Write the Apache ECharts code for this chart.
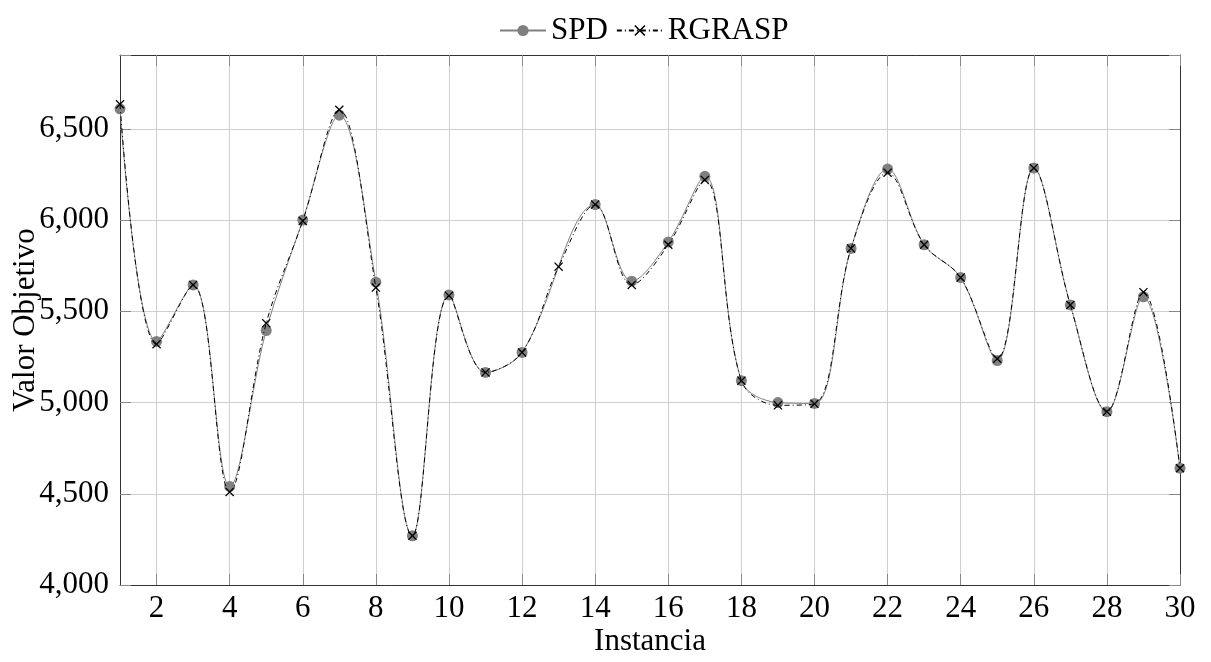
<!DOCTYPE html>
<html>
<head>
<meta charset="utf-8">
<script src="https://cdn.jsdelivr.net/npm/echarts@6/dist/echarts.min.js"></script>
<style>
html,body{margin:0;padding:0;background:#fff;}
#chart{width:1211px;height:662px;}
</style>
</head>
<body>
<div id="chart"></div>
<script>
const categories = ['1','2','3','4','5','6','7','8','9','10','11','12','13','14','15','16','17','18','19','20','21','22','23','24','25','26','27','28','29','30'];
const spd = [6610, 5335, 5645, 4540, 5395, 6000, 6575, 5660, 4270, 5590, 5165, 5275, null, 6085, 5665, 5880, 6240, 5120, 5000, 4995, 5845, 6280, 5865, 5685, 5230, 6285, 5535, 4950, 5580, 4640];
const rgrasp = [6635, 5320, 5645, 4510, 5435, 5995, 6605, 5630, 4270, 5585, 5165, 5275, 5745, 6085, 5645, 5865, 6220, 5120, 4985, 4993, 5845, 6260, 5865, 5685, 5240, 6285, 5535, 4950, 5605, 4640];
const yMin = 4000, yMax = 6905, yStep = 500;

const FONT = '"Liberation Serif", "DejaVu Serif", serif';
const crossPath = 'path://M0,1 L1,0 L5,4 L9,0 L10,1 L6,5 L10,9 L9,10 L5,6 L1,10 L0,9 L4,5 Z';
const evenIdx = (i) => i % 2 === 1;
const fmt = (v) => (v % yStep === 0) ? String(v).replace(/\B(?=(\d{3})+(?!\d))/g, ',') : '';

const chart = echarts.init(document.getElementById('chart'), null, {renderer: 'canvas'});
chart.setOption({
  animation: false,
  backgroundColor: '#fff',
  textStyle: {fontFamily: FONT},
  grid: {left: 120, right: 31, top: 55, bottom: 77, containLabel: false, outerBoundsMode: 'none'},
  legend: {
    left: 494, top: 10,
    itemWidth: 46, itemHeight: 14, itemGap: 8,
    textStyle: {fontFamily: FONT, fontSize: 31, color: '#000'},
    data: ['SPD', 'RGRASP']
  },
  xAxis: [{
    type: 'category', data: categories, boundaryGap: false, position: 'bottom',
    name: 'Instancia', nameLocation: 'middle', nameGap: 41, nameMoveOverlap: false,
    nameTextStyle: {fontFamily: FONT, fontSize: 31, color: '#000'},
    axisLine: {show: true, lineStyle: {color: '#333', width: 1}},
    axisTick: {show: true, inside: true, length: 11, interval: evenIdx, lineStyle: {color: '#888'}},
    axisLabel: {interval: evenIdx, fontFamily: FONT, fontSize: 31, color: '#000', margin: 8},
    splitLine: {show: true, interval: evenIdx, lineStyle: {color: '#cfcfcf', width: 1}}
  }, {
    type: 'category', data: categories, boundaryGap: false, position: 'top',
    axisLine: {show: true, lineStyle: {color: '#333', width: 1}},
    axisTick: {show: true, inside: true, length: 11, interval: evenIdx, lineStyle: {color: '#888'}},
    axisLabel: {show: false}, splitLine: {show: false}
  }],
  yAxis: [{
    type: 'value', min: yMin, max: yMax, interval: yStep, position: 'left',
    name: 'Valor Objetivo', nameLocation: 'middle', nameGap: 79, nameMoveOverlap: false,
    nameTextStyle: {fontFamily: FONT, fontSize: 31, color: '#000'},
    axisLine: {show: true, lineStyle: {color: '#333', width: 1}},
    axisTick: {show: true, inside: true, length: 11, lineStyle: {color: '#888'}},
    axisLabel: {formatter: fmt, fontFamily: FONT, fontSize: 31, color: '#000', margin: 11},
    splitLine: {show: true, lineStyle: {color: '#cfcfcf', width: 1}}
  }, {
    type: 'value', min: yMin, max: yMax, interval: yStep, position: 'right',
    axisLine: {show: true, lineStyle: {color: '#333', width: 1}},
    axisTick: {show: true, inside: true, length: 11, lineStyle: {color: '#888'}},
    axisLabel: {show: false}, splitLine: {show: false}
  }],
  series: [{
    name: 'SPD', type: 'line', data: spd, smooth: 0.35, connectNulls: true,
    xAxisIndex: 0, yAxisIndex: 0,
    symbol: 'circle', symbolSize: 11,
    lineStyle: {color: '#808080', width: 1},
    itemStyle: {color: '#808080'},
    z: 2
  }, {
    name: 'RGRASP', type: 'line', data: rgrasp, smooth: 0.35,
    xAxisIndex: 0, yAxisIndex: 0,
    symbol: crossPath, symbolSize: 9,
    lineStyle: {color: '#000', width: 1, type: [5, 3, 1, 3]},
    itemStyle: {color: '#000'},
    z: 3
  }]
});
</script>
</body>
</html>
